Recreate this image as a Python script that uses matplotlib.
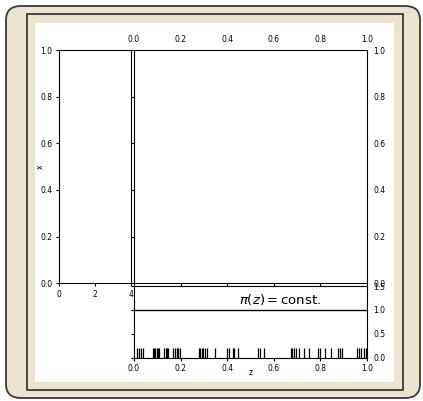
import matplotlib.pyplot as plt
from matplotlib.patches import FancyBboxPatch, Rectangle

# ---------- Datos ----------
z_samples = [0.014, 0.021, 0.030, 0.039,
             0.083, 0.087, 0.091, 0.097, 0.101, 0.106,
             0.130, 0.136, 0.141, 0.147,
             0.169, 0.175, 0.183, 0.190, 0.199,
             0.279, 0.285, 0.290, 0.297, 0.304, 0.312,
             0.348,
             0.398, 0.406, 0.424, 0.430, 0.445,
             0.533, 0.540, 0.558,
             0.672, 0.680, 0.687, 0.694, 0.710, 0.728, 0.750,
             0.790, 0.797, 0.818, 0.845,
             0.876, 0.884, 0.893,
             0.958, 0.966, 0.975, 0.985, 0.995]
prior_level = 1.0
prior_label = r"$\pi(z) = \mathrm{const.}$"
unit_ticks = [0.0, 0.2, 0.4, 0.6, 0.8, 1.0]
left_xticks = [0, 2, 4]
prior_yticks = [0.0, 0.5, 1.0, 1.5]

W, H = 423, 401
fs = 5.5
plt.rcParams["xtick.labelsize"] = fs
plt.rcParams["ytick.labelsize"] = fs
plt.rcParams["xtick.major.size"] = 2.5
plt.rcParams["ytick.major.size"] = 2.5
plt.rcParams["xtick.major.pad"] = 2
plt.rcParams["ytick.major.pad"] = 2

fig = plt.figure(figsize=(W / 100, H / 100), dpi=100)
fig.patch.set_facecolor("white")


def fx(px):
    return px / W


def fy(py):
    return 1 - py / H


# marco exterior redondeado + marco interior (detrás de los ejes)
beige = "#ebe2d0"
fig.patches.append(FancyBboxPatch((fx(6), fy(398)), fx(414), 392 / H,
                                  boxstyle="round,pad=0,rounding_size=0.035",
                                  transform=fig.transFigure, facecolor=beige,
                                  edgecolor="#3a3a3a", linewidth=1.3, zorder=-3))
fig.patches.append(Rectangle((fx(27), fy(390)), fx(376), 376 / H,
                             transform=fig.transFigure, facecolor=beige,
                             edgecolor="#3a3a3a", linewidth=1.3, zorder=-2))
fig.patches.append(Rectangle((fx(35), fy(382)), fx(359), 359 / H,
                             transform=fig.transFigure, facecolor="white",
                             edgecolor="none", zorder=-1))

# ---------- Ejes ----------
ax_left = fig.add_axes([fx(58.7), fy(283.3), fx(72), 233.3 / H])
ax_main = fig.add_axes([fx(134), fy(283.3), fx(233), 233.3 / H])
ax_prior = fig.add_axes([fx(134), fy(357.7), fx(233), 71.7 / H])

for ax in (ax_left, ax_main, ax_prior):
    ax.patch.set_alpha(0)

ax_left.set_xlim(0, 4)
ax_left.set_ylim(0, 1)
ax_left.set_xticks(left_xticks)
ax_left.set_yticks(unit_ticks)
ax_left.set_ylabel("x", fontsize=fs)
ax_left.yaxis.set_label_coords(-0.19, 0.5)

ax_main.set_xlim(0, 1)
ax_main.set_ylim(0, 1)
ax_main.set_xticks(unit_ticks)
ax_main.set_yticks(unit_ticks)
ax_main.tick_params(labeltop=True, labelbottom=False,
                    labelright=True, labelleft=False)

ax_prior.set_xlim(0, 1)
ax_prior.set_ylim(0, 1.5)
ax_prior.set_xticks(unit_ticks)
ax_prior.set_yticks(prior_yticks)
ax_prior.tick_params(labelright=True, labelleft=False)
ax_prior.axhline(prior_level, color="black", linewidth=1.0)
ax_prior.vlines(z_samples, 0, 0.2, color="black", linewidth=0.9)
ax_prior.text(0.627, 1.22, prior_label, ha="center", va="center", fontsize=9.5)
ax_prior.set_xlabel("z", fontsize=fs)
ax_prior.xaxis.set_label_coords(0.5, -0.15)

fig.savefig("out.png", dpi=100)
